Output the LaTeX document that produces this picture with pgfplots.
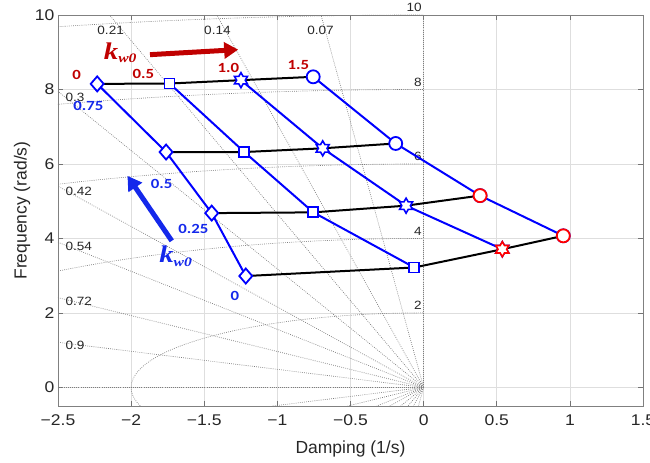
\documentclass[border=0pt]{standalone}
\usepackage{graphicx}
\usepackage{pgfplots}
\pgfplotsset{compat=1.18}
\usepackage{pgfplotstable}
\usetikzlibrary{arrows.meta}
\usepackage{fontspec}
\setmainfont{Liberation Sans}
\newfontfamily\annotfont{Carlito}
\newfontfamily\kfont{Liberation Serif}

\definecolor{mblue}{RGB}{0,0,255}
\definecolor{mred}{RGB}{255,0,0}
\definecolor{tred}{RGB}{192,0,0}
\definecolor{tblue}{RGB}{20,40,235}
\definecolor{sgrid}{RGB}{125,125,125}

% slightly widened text
\newcommand\hs[1]{\scalebox{1.13}[1]{#1}}

% six-pointed star (hexagram) marker
\pgfdeclareplotmark{hexagram}{%
  \pgfpathmoveto{\pgfpointpolar{90}{\pgfplotmarksize}}%
  \pgfpathlineto{\pgfpointpolar{120}{0.5774*\pgfplotmarksize}}%
  \pgfpathlineto{\pgfpointpolar{150}{\pgfplotmarksize}}%
  \pgfpathlineto{\pgfpointpolar{180}{0.5774*\pgfplotmarksize}}%
  \pgfpathlineto{\pgfpointpolar{210}{\pgfplotmarksize}}%
  \pgfpathlineto{\pgfpointpolar{240}{0.5774*\pgfplotmarksize}}%
  \pgfpathlineto{\pgfpointpolar{270}{\pgfplotmarksize}}%
  \pgfpathlineto{\pgfpointpolar{300}{0.5774*\pgfplotmarksize}}%
  \pgfpathlineto{\pgfpointpolar{330}{\pgfplotmarksize}}%
  \pgfpathlineto{\pgfpointpolar{0}{0.5774*\pgfplotmarksize}}%
  \pgfpathlineto{\pgfpointpolar{30}{\pgfplotmarksize}}%
  \pgfpathlineto{\pgfpointpolar{60}{0.5774*\pgfplotmarksize}}%
  \pgfpathclose
  \pgfusepathqfillstroke
}

% closed-loop poles for k_p0 in {0, 0.5, 1.0, 1.5} (columns) and k_w0 (rows)
\pgfplotstableread{
kw    x       y
0.75  -2.232  8.15
0.5   -1.761  6.32
0.25  -1.449  4.68
0     -1.216  2.99
}\polesA
\pgfplotstableread{
kw    x       y
0.75  -1.737  8.16
0.5   -1.226  6.32
0.25  -0.754  4.70
0     -0.064  3.22
}\polesB
\pgfplotstableread{
kw    x       y
0.75  -1.249  8.25
0.5   -0.690  6.42
0.25  -0.120  4.88
0      0.538  3.71
}\polesC
\pgfplotstableread{
kw    x       y
0.75  -0.755  8.34
0.5   -0.191  6.55
0.25   0.386  5.15
0      0.955  4.07
}\polesD

\newcommand\kw[1]{\textcolor{#1}{\scalebox{1.2}[1]{\kfont\bfseries\itshape\fontsize{24bp}{25bp}\selectfont k\raisebox{-0.3ex}{\fontsize{13bp}{14bp}\selectfont w0}}}}

\begin{document}
\begin{tikzpicture}
\begin{axis}[name=ax,
  width=585bp, height=391bp, scale only axis,
  xmin=-2.5, xmax=1.5, ymin=-0.5, ymax=10,
  xtick={-2.5,-2,-1.5,-1,-0.5,0,0.5,1,1.5},
  xticklabels={\hs{−2.5},\hs{−2},\hs{−1.5},\hs{−1},\hs{−0.5},\hs{0},\hs{0.5},\hs{1},\hs{1.5}},
  ytick={0,2,4,6,8,10}, yticklabels={\hs{0},\hs{2},\hs{4},\hs{6},\hs{8},\hs{10}},
  grid=major, major grid style={line width=0.7bp, black!13},
  tick align=inside, tick pos=both, major tick length=5bp,
  every tick/.style={black!55, line width=0.7bp},
  axis line style={black!50, line width=0.8bp},
  tick label style={font=\fontsize{15.5bp}{17bp}\selectfont, text=black!85},
  xticklabel style={yshift=-5bp},
  label style={font=\fontsize{17.5bp}{20bp}\selectfont, text=black!85},
  xlabel style={yshift=-8bp},
  ylabel style={yshift=-2bp},
  xlabel={Damping (1/s)}, ylabel={Frequency (rad/s)},
  clip=false,
]
% s-plane grid: constant damping-ratio rays
\pgfplotsset{sg/.style={sgrid, line width=0.65bp, dash pattern=on 0.8bp off 1.3bp, forget plot}}
\addplot[sg] coordinates {(0,0) (-0.7017,10)};
\addplot[sg] coordinates {(0,0) (-1.4139,10)};
\addplot[sg] coordinates {(0,0) (-2.1479,10)};
\addplot[sg] coordinates {(0,0) (-2.5,7.9495)};
\addplot[sg] coordinates {(0,0) (-2.5,5.4019)};
\addplot[sg] coordinates {(0,0) (-2.5,3.8966)};
\addplot[sg] coordinates {(0,0) (-2.5,2.4096)};
\addplot[sg] coordinates {(0,0) (-2.5,1.2108)};
\addplot[sg] coordinates {(0,0) (-2.5,0)};
\addplot[sg] coordinates {(0,0) (0,10)};
\addplot[sg] coordinates {(0,0) (-0.0351,-0.5)};
\addplot[sg] coordinates {(0,0) (-0.0707,-0.5)};
\addplot[sg] coordinates {(0,0) (-0.1074,-0.5)};
\addplot[sg] coordinates {(0,0) (-0.1572,-0.5)};
\addplot[sg] coordinates {(0,0) (-0.2314,-0.5)};
\addplot[sg] coordinates {(0,0) (-0.3208,-0.5)};
\addplot[sg] coordinates {(0,0) (-0.5188,-0.5)};
\addplot[sg] coordinates {(0,0) (-1.0324,-0.5)};
% constant natural-frequency circles
\begin{scope}
  \clip (rel axis cs:0,0) rectangle (axis cs:0,10);
  \draw[sgrid, line width=0.65bp, dash pattern=on 0.8bp off 1.3bp] (axis cs:0,0) ellipse [x radius=2, y radius=2];
  \draw[sgrid, line width=0.65bp, dash pattern=on 0.8bp off 1.3bp] (axis cs:0,0) ellipse [x radius=4, y radius=4];
  \draw[sgrid, line width=0.65bp, dash pattern=on 0.8bp off 1.3bp] (axis cs:0,0) ellipse [x radius=6, y radius=6];
  \draw[sgrid, line width=0.65bp, dash pattern=on 0.8bp off 1.3bp] (axis cs:0,0) ellipse [x radius=8, y radius=8];
  \draw[sgrid, line width=0.65bp, dash pattern=on 0.8bp off 1.3bp] (axis cs:0,0) ellipse [x radius=10, y radius=10];
\end{scope}
% grid labels
\begin{scope}[every node/.style={font=\fontsize{12bp}{13bp}\selectfont, text=black!85, inner sep=0pt}]
\node[anchor=center] at (axis cs:-2.14,9.59) {\hs{0.21}};
\node[anchor=center] at (axis cs:-1.41,9.59) {\hs{0.14}};
\node[anchor=center] at (axis cs:-0.705,9.59) {\hs{0.07}};
\node[anchor=west] at (axis cs:-2.45,7.80) {\hs{0.3}};
\node[anchor=west] at (axis cs:-2.45,5.27) {\hs{0.42}};
\node[anchor=west] at (axis cs:-2.45,3.78) {\hs{0.54}};
\node[anchor=west] at (axis cs:-2.45,2.31) {\hs{0.72}};
\node[anchor=west] at (axis cs:-2.45,1.12) {\hs{0.9}};
\node[anchor=east] at (axis cs:-0.012,2.2) {\hs{2}};
\node[anchor=east] at (axis cs:-0.012,4.2) {\hs{4}};
\node[anchor=east] at (axis cs:-0.012,6.2) {\hs{6}};
\node[anchor=east] at (axis cs:-0.012,8.2) {\hs{8}};
\node[anchor=east] at (axis cs:-0.012,10.2) {\hs{10}};
\end{scope}

% loci along k_w0 (blue) and along k_p0 (black)
\addplot[mblue, line width=2bp] table[x=x,y=y] {\polesA};
\addplot[mblue, line width=2bp] table[x=x,y=y] {\polesB};
\addplot[mblue, line width=2bp] table[x=x,y=y] {\polesC};
\addplot[mblue, line width=2bp] table[x=x,y=y] {\polesD};
\addplot[black, line width=2bp] coordinates {(-2.232,8.15) (-1.737,8.16) (-1.249,8.25) (-0.755,8.34)};
\addplot[black, line width=2bp] coordinates {(-1.761,6.32) (-1.226,6.32) (-0.690,6.42) (-0.191,6.55)};
\addplot[black, line width=2bp] coordinates {(-1.449,4.68) (-0.754,4.70) (-0.120,4.88) (0.386,5.15)};
\addplot[black, line width=2bp] coordinates {(-1.216,2.99) (-0.064,3.22) (0.538,3.71) (0.955,4.07)};

% pole markers
\addplot[only marks, mark=diamond*, mark size=7.5bp, mark options={mblue, fill=white, line width=1.8bp, xscale=1.15}] table[x=x,y=y] {\polesA};
\addplot[only marks, mark=square*, mark size=5bp, mark options={mblue, fill=white, line width=1.8bp}] table[x=x,y=y] {\polesB};
\addplot[only marks, mark=hexagram, mark size=7.5bp, mark options={mblue, fill=white, line width=1.6bp}] table[x=x,y=y] {\polesC};
\addplot[only marks, mark=*, mark size=6.5bp, mark options={mblue, fill=white, line width=1.8bp}] table[x=x,y=y] {\polesD};
% unstable poles
\addplot[only marks, mark=hexagram, mark size=7.5bp, mark options={mred, fill=white, line width=1.6bp}] coordinates {(0.538,3.71)};
\addplot[only marks, mark=*, mark size=6.5bp, mark options={mred, fill=white, line width=1.8bp}] coordinates {(0.386,5.15) (0.955,4.07)};

% annotations
\draw[tred, line width=5bp, -{Triangle[length=14bp,width=16bp]}] (axis cs:-1.871,8.935) -- (axis cs:-1.268,9.07);
\draw[tblue, line width=5bp, -{Triangle[length=14bp,width=16bp]}] (axis cs:-1.722,3.935) -- (axis cs:-2.025,5.68);
\node at (axis cs:-2.075,8.98) {\kw{tred}};
\node at (axis cs:-1.696,3.52) {\kw{tblue}};
\begin{scope}[every node/.style={font=\annotfont\bfseries\fontsize{14bp}{15bp}\selectfont, inner sep=0pt}]
\node[text=tred] at (axis cs:-2.372,8.39) {\scalebox{1.2}[1]{0}};
\node[text=tred] at (axis cs:-1.917,8.41) {\scalebox{1.2}[1]{0.5}};
\node[text=tred] at (axis cs:-1.335,8.58) {\scalebox{1.2}[1]{1.0}};
\node[text=tred] at (axis cs:-0.857,8.66) {\scalebox{1.2}[1]{1.5}};
\node[text=tblue] at (axis cs:-2.293,7.57) {\scalebox{1.2}[1]{0.75}};
\node[text=tblue] at (axis cs:-1.791,5.47) {\scalebox{1.2}[1]{0.5}};
\node[text=tblue] at (axis cs:-1.575,4.25) {\scalebox{1.2}[1]{0.25}};
\node[text=tblue] at (axis cs:-1.290,2.45) {\scalebox{1.2}[1]{0}};
\end{scope}
\end{axis}
\pgfresetboundingbox
\path[use as bounding box] ([xshift=-58bp,yshift=-56bp]ax.south west) rectangle ([xshift=7bp,yshift=15bp]ax.north east);
\end{tikzpicture}
\end{document}
